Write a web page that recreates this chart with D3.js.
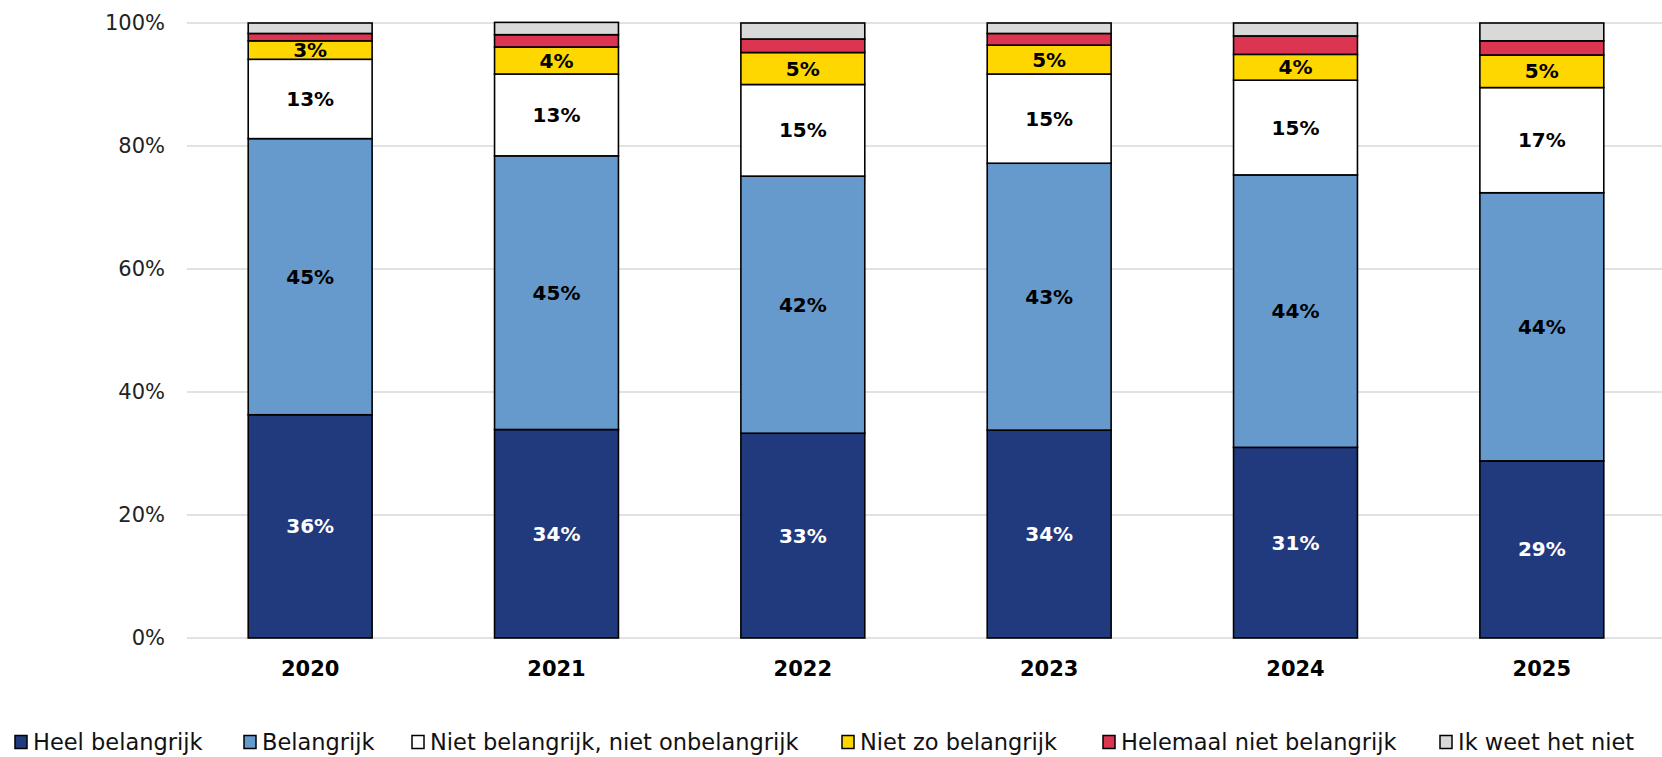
<!DOCTYPE html>
<html><head><meta charset="utf-8">
<script src="https://cdn.jsdelivr.net/npm/d3@7"></script>
<style>
html,body{margin:0;padding:0;background:#fff;}
svg{display:block;font-family:"DejaVu Sans","Lato",sans-serif;}
</style></head>
<body>
<svg id="chart" width="1662" height="757"></svg>
<script>
const years = ["2020","2021","2022","2023","2024","2025"];
const seriesNames = ["Heel belangrijk","Belangrijk","Niet belangrijk, niet onbelangrijk","Niet zo belangrijk","Helemaal niet belangrijk","Ik weet het niet"];
const heelBelangrijk     = [36.3, 33.9, 33.3, 33.8, 31.0, 28.8];
const belangrijk         = [44.9, 44.5, 41.8, 43.4, 44.3, 43.6];
const nietNiet           = [12.9, 13.3, 14.9, 14.5, 15.4, 17.1];
const nietZo             = [3.0, 4.4, 5.2, 4.7, 4.2, 5.3];
const helemaalNiet       = [1.2, 2.0, 2.2, 1.9, 3.0, 2.3];
const weetNiet           = [1.7, 2.0, 2.6, 1.7, 2.1, 2.9];
const yTicks = [0, 0.2, 0.4, 0.6, 0.8, 1.0];
const colors = ["#213a7e","#6699cc","#ffffff","#ffd700","#dc3551","#d9d9d9"];
const labelColors = ["#ffffff","#000000","#000000","#000000",null,null];

const seriesValues = [heelBelangrijk, belangrijk, nietNiet, nietZo, helemaalNiet, weetNiet];
const keys = seriesNames;
const table = years.map((y,i)=>{const o={year:y}; keys.forEach((k,j)=>o[k]=seriesValues[j][i]/100); return o;});
const stacked = d3.stack().keys(keys)(table);

const svg = d3.select("#chart");
const x = d3.scaleBand().domain(years).range([187,1665]).paddingInner(0.497).paddingOuter(0.2485);
const y = d3.scaleLinear().domain([0,1]).range([638,23]);

// gridlines
svg.append("g").selectAll("line").data(yTicks).join("line")
  .attr("x1",187).attr("x2",1662).attr("y1",d=>y(d)).attr("y2",d=>y(d))
  .attr("stroke","#d9d9d9").attr("stroke-width",1.5);

// y tick labels
const yAxis = d3.axisLeft(y).tickValues(yTicks).tickFormat(d3.format(".0%")).tickSize(0).tickPadding(0);
const ya = svg.append("g").attr("transform","translate(165,0)").call(yAxis);
ya.select(".domain").remove();
ya.selectAll("text").attr("font-size",21).attr("fill","#222").attr("font-family","DejaVu Sans");

// bars
const layers = svg.append("g").selectAll("g").data(stacked).join("g")
  .attr("fill",(d,i)=>colors[i]);
layers.selectAll("rect").data(d=>d).join("rect")
  .attr("x",d=>x(d.data.year)).attr("width",x.bandwidth())
  .attr("y",d=>y(d[1])).attr("height",d=>y(d[0])-y(d[1]))
  .attr("stroke","#000").attr("stroke-width",1.6);

// data labels
stacked.forEach((s,i)=>{
  if(!labelColors[i]) return;
  svg.append("g").selectAll("text").data(s).join("text")
    .attr("x",d=>x(d.data.year)+x.bandwidth()/2)
    .attr("y",d=>(y(d[0])+y(d[1]))/2)
    .attr("text-anchor","middle").attr("dominant-baseline","central")
    .attr("font-size",20).attr("font-weight","bold").attr("fill",labelColors[i])
    .text(d=>Math.round((d[1]-d[0])*100)+"%");
});

// x axis labels
const xAxis = d3.axisBottom(x).tickSize(0).tickPadding(0);
const xa = svg.append("g").attr("transform","translate(0,669)").call(xAxis);
xa.select(".domain").remove();
xa.selectAll("text").attr("font-size",21).attr("font-weight","bold").attr("fill","#000")
  .attr("dy","0.35em").attr("font-family","DejaVu Sans");

// legend
const legendX = [15, 244, 412, 842, 1103, 1440];
const lg = svg.append("g").selectAll("g").data(seriesNames).join("g")
  .attr("transform",(d,i)=>`translate(${legendX[i]},742)`);
lg.append("rect").attr("x",0).attr("y",-6.5).attr("width",12).attr("height",13)
  .attr("fill",(d,i)=>colors[i]).attr("stroke","#000").attr("stroke-width",1.5);
lg.append("text").attr("x",18).attr("y",0).attr("dominant-baseline","central")
  .attr("font-size",22.5).attr("fill","#111").attr("font-family","DejaVu Sans")
  .text(d=>d);
</script>
</body></html>
